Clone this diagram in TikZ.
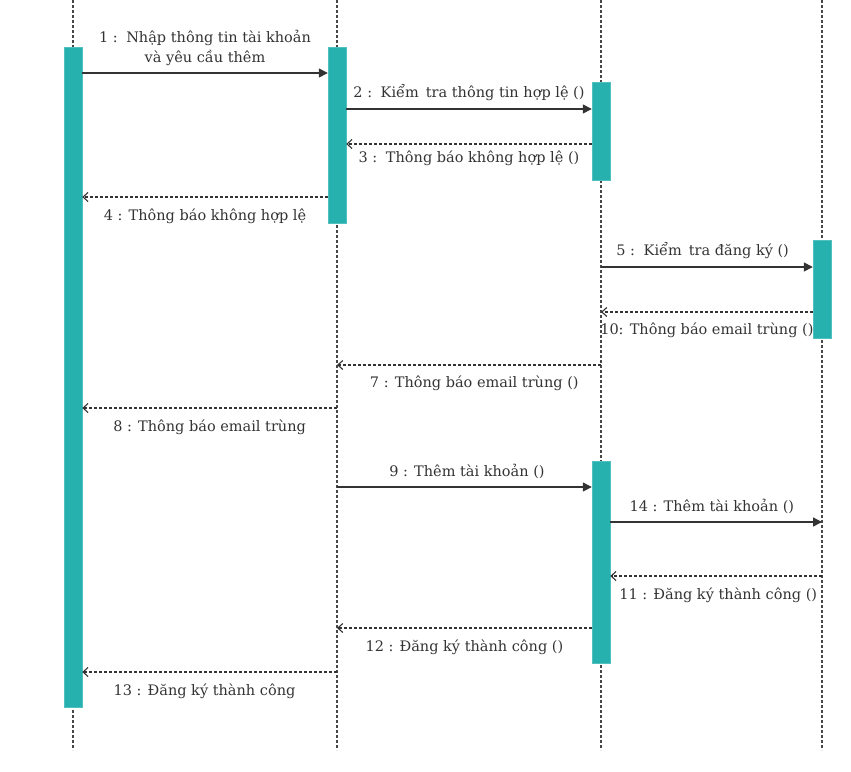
\documentclass[tikz,border=0pt]{standalone}
\usepackage{fontspec}
\setmainfont{DejaVu Serif}
\usetikzlibrary{arrows.meta}

\definecolor{barteal}{HTML}{26B0AE}
\definecolor{msggray}{HTML}{333333}

\tikzset{
  lifeline/.style={draw=msggray!90,line width=1.1pt,dash pattern=on 3pt off 2pt},
  actbar/.style={fill=barteal,draw=barteal!80!white,minimum width=18pt,inner sep=0pt,anchor=north},
  callmsg/.style={draw=msggray,line width=1.4pt,-{Triangle[length=9pt,width=9pt]}},
  replymsg/.style={draw=msggray,line width=1.1pt,dash pattern=on 3pt off 2pt,-{Straight Barb[length=5pt,width=9pt]}},
  msglabel/.style={font=\fontsize{14.5}{20}\selectfont,text=msggray,inner sep=0pt}
}

\begin{document}
\begin{tikzpicture}[x=1pt,y=-1pt]

\useasboundingbox (0,0) rectangle (851,771);

% lifelines
\coordinate (LA) at (73,0);
\coordinate (LB) at (337,0);
\coordinate (LC) at (601,0);
\coordinate (LD) at (822,0);
\draw[lifeline] (LA) -- ++(0,750);
\draw[lifeline] (LB) -- ++(0,750);
\draw[lifeline] (LC) -- ++(0,750);
\draw[lifeline] (LD) -- ++(0,750);

% activation bars
\node[actbar,minimum height=660pt] (barA) at (73,47) {};
\node[actbar,minimum height=176pt] (barB) at (337,47) {};
\node[actbar,minimum height=98pt] (barC) at (601,82) {};
\node[actbar,minimum height=98pt] (barD) at (822,240) {};
\node[actbar,minimum height=202pt] (barE) at (601,461) {};

% message end points
\coordinate (m1a) at (barA.east |- 0,73);   \coordinate (m1b) at (barB.west |- 0,73);
\coordinate (m2a) at (barB.east |- 0,109);  \coordinate (m2b) at (barC.west |- 0,109);
\coordinate (m3a) at (barC.west |- 0,144);  \coordinate (m3b) at (barB.east |- 0,144);
\coordinate (m4a) at (barB.west |- 0,197);  \coordinate (m4b) at (barA.east |- 0,197);
\coordinate (m5a) at (LC |- 0,267);         \coordinate (m5b) at (barD.west |- 0,267);
\coordinate (m10a) at (barD.west |- 0,312); \coordinate (m10b) at (LC |- 0,312);
\coordinate (m7a) at (LC |- 0,365);         \coordinate (m7b) at (LB |- 0,365);
\coordinate (m8a) at (LB |- 0,408);         \coordinate (m8b) at (barA.east |- 0,408);
\coordinate (m9a) at (LB |- 0,487);         \coordinate (m9b) at (barE.west |- 0,487);
\coordinate (m14a) at (barE.east |- 0,522); \coordinate (m14b) at (LD |- 0,522);
\coordinate (m11a) at (LD |- 0,576);        \coordinate (m11b) at (barE.east |- 0,576);
\coordinate (m12a) at (barE.west |- 0,628); \coordinate (m12b) at (LB |- 0,628);
\coordinate (m13a) at (LB |- 0,672);        \coordinate (m13b) at (barA.east |- 0,672);

% messages
\draw[callmsg] (m1a) -- (m1b) node[msglabel,midway,above=7pt,align=center] (t1) {1 :\, Nhập thông tin tài khoản\\và yêu cầu thêm};
\draw[callmsg] (m2a) -- (m2b) node[msglabel,midway,above=8pt] (t2) {2 :\, Kiểm \,tra thông tin hợp lệ ()};
\draw[replymsg] (m3a) -- (m3b) node[msglabel,midway,below=6pt] (t3) {3 :\, Thông báo không hợp lệ ()};
\draw[replymsg] (m4a) -- (m4b) node[msglabel,midway,below=11pt] (t4) {4 : Thông báo không hợp lệ};
\draw[callmsg] (m5a) -- (m5b) node[msglabel,pos=0.48,above=8pt] (t5) {5 :\, Kiểm \,tra đăng ký ()};
\draw[replymsg] (m10a) -- (m10b) node[msglabel,midway,below=10pt] (t10) {10: Thông báo email trùng ()};
\draw[replymsg] (m7a) -- (m7b) node[msglabel,pos=0.48,below=10pt] (t7) {7 : Thông báo email trùng ()};
\draw[replymsg] (m8a) -- (m8b) node[msglabel,midway,below=11pt] (t8) {8 : Thông báo email trùng};
\draw[callmsg] (m9a) -- (m9b) node[msglabel,pos=0.51,above=8pt] (t9) {9 : Thêm tài khoản ()};
\draw[callmsg] (m14a) -- (m14b) node[msglabel,pos=0.48,above=8pt] (t14) {14 : Thêm tài khoản ()};
\draw[replymsg] (m11a) -- (m11b) node[msglabel,pos=0.49,below=11pt] (t11) {11 : Đăng ký thành công ()};
\draw[replymsg] (m12a) -- (m12b) node[msglabel,pos=0.5,below=11pt] (t12) {12 : Đăng ký thành công ()};
\draw[replymsg] (m13a) -- (m13b) node[msglabel,pos=0.52,below=11pt] (t13) {13 : Đăng ký thành công};

\end{tikzpicture}
\end{document}
